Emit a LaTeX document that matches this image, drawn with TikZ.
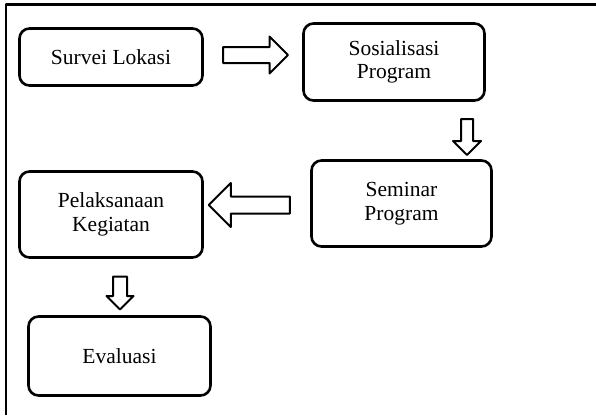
\documentclass[tikz,border=0pt]{standalone}
\usepackage{fontspec}
\setmainfont{Liberation Serif}
\usetikzlibrary{shapes.arrows}

\begin{document}
\begin{tikzpicture}[x=1pt,y=-1pt,line join=round,
  stepbox/.style={draw,line width=2.6pt,rounded corners=10pt,align=center,
    inner sep=0pt,font=\fontsize{21.5}{23.5}\selectfont},
  fatarrow/.style={draw,line width=2pt,single arrow,inner xsep=0pt}]
\useasboundingbox (0,0) rectangle (596,415);

% frame, only top and left edge show
\draw[line width=2.5pt] (6,415) -- (6,4.5) -- (596,4.5);

% steps
\node[stepbox, minimum width=183pt, minimum height=57pt] (survei) at (111,57) {Survei Lokasi};
\node[stepbox, minimum width=181pt, minimum height=77pt] (sosial) at (394,62) {Sosialisasi\\Program};
\node[stepbox, minimum width=180pt, minimum height=86pt] (seminar) at (401.5,203.5) {Seminar\\Program};
\node[stepbox, minimum width=183pt, minimum height=86pt] (pelaks) at (111,214.5) {Pelaksanaan\\Kegiatan};
\node[stepbox, minimum width=182pt, minimum height=79pt] (evalu) at (119.5,356) {Evaluasi};

% block arrows between steps
\node[fatarrow, minimum height=65pt, inner ysep=7pt, single arrow head extend=10.5pt] (arrA) at (251.5,55) {};
\node[fatarrow, rotate=-90, minimum height=36pt, inner ysep=5pt, single arrow head extend=8pt] (arrB) at (467,134) {};
\node[fatarrow, rotate=180, minimum height=81pt, inner ysep=7.5pt, single arrow head extend=13.5pt] (arrC) at (253.5,205) {};
\node[fatarrow, rotate=-90, minimum height=33pt, inner ysep=6pt, single arrow head extend=6.5pt] (arrD) at (120,289.5) {};
\end{tikzpicture}
\end{document}
